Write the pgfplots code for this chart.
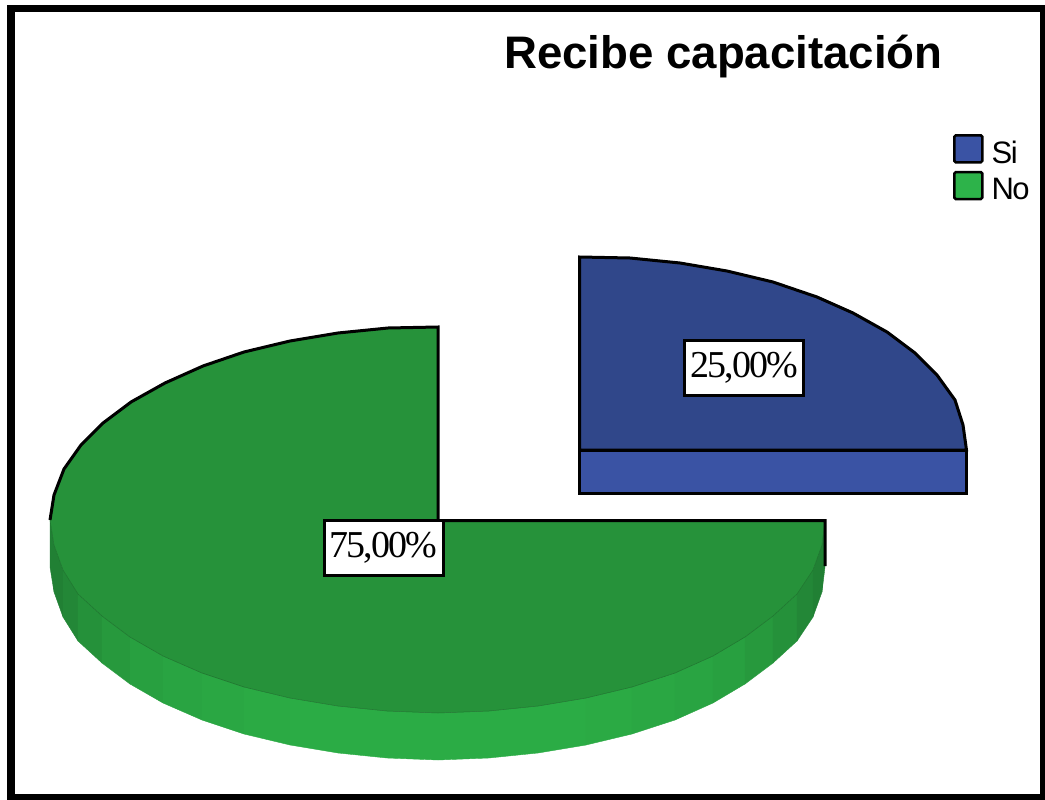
\documentclass[border=0pt]{standalone}
\usepackage{pgfplots}
\pgfplotsset{compat=1.18}
\usepackage{fontspec}
\setmainfont{Liberation Sans}
\newfontfamily\labelfont[LetterSpace=-5]{Liberation Serif}
\newfontfamily\legendfont[LetterSpace=-5]{Liberation Sans}

\definecolor{blueTop}{RGB}{48,71,138}
\definecolor{blueFront}{RGB}{58,83,164}
\definecolor{greenTop}{RGB}{38,146,58}
\definecolor{greenEdge}{RGB}{30,115,46}
\definecolor{legBlue}{RGB}{58,83,164}
\definecolor{legGreen}{RGB}{45,179,74}

% Wall shades of the large sector, dark at the sides and bright at the front
\definecolor{wa}{RGB}{33,128,52}
\definecolor{wb}{RGB}{35,135,55}
\definecolor{wc}{RGB}{37,145,58}
\definecolor{wd}{RGB}{39,153,61}
\definecolor{we}{RGB}{40,160,64}
\definecolor{wf}{RGB}{41,164,66}
\definecolor{wg}{RGB}{42,167,67}
\definecolor{wh}{RGB}{43,170,68}
\definecolor{wi}{RGB}{43,172,69}

% One wall facet: colour, then x, top y and bottom y of both ends
\newcommand{\facet}[7]{%
  \addplot[fill=#1,draw=#1,line width=0.4pt,forget plot]
    coordinates {(#2,#3) (#5,#6) (#5,#7) (#2,#4) (#2,#3)};%
}

\begin{document}
\begin{tikzpicture}
\begin{axis}[
  name=chart,
  scale only axis, width=1045pt, height=800pt,
  xmin=0, xmax=1045, ymin=0, ymax=800, y dir=reverse,
  hide axis,
  legend style={at={(axis cs:953,134)}, anchor=north west, draw=none, fill=none,
    inner sep=0pt, outer sep=0pt, row sep=3.5pt,
    font=\fontsize{31}{31}\selectfont\legendfont,
    cells={anchor=west}},
  legend cell align=left,
]

% Legend keys
\addlegendimage{legend image code/.code={
  \draw[fill=legBlue,draw=black,line width=2.6pt,rounded corners=1.5pt] (0pt,-9pt) rectangle (28pt,18pt);}}
\addlegendentry{\hspace{6pt}Si}
\addlegendimage{legend image code/.code={
  \draw[fill=legGreen,draw=black,line width=2.6pt,rounded corners=1.5pt] (0pt,-9pt) rectangle (28pt,18pt);}}
\addlegendentry{\hspace{6pt}No}

% Outer frame
\addplot[draw=black,line width=7.5pt,forget plot]
  coordinates {(11,8.5) (1044,8.5) (1044,798) (11,798) (11,8.5) (1044,8.5)};

% "No" sector (75,00 %): wall facets
\facet{wa}{50}{520}{567}{54}{545}{592}
\facet{wa}{54}{545}{592}{63}{570}{617}
\facet{wb}{63}{570}{617}{78}{594}{641}
\facet{wc}{78}{594}{641}{102}{616}{663}
\facet{wd}{102}{616}{663}{130}{637}{684}
\facet{we}{130}{637}{684}{163}{656}{703}
\facet{wf}{163}{656}{703}{202}{673}{720}
\facet{wg}{202}{673}{720}{244}{687}{734}
\facet{wh}{244}{687}{734}{290}{698}{745}
\facet{wi}{290}{698}{745}{338}{706}{753}
\facet{wi}{338}{706}{753}{387}{711}{758}
\facet{wi}{387}{711}{758}{438}{713}{760}
\facet{wi}{438}{713}{760}{489}{711}{758}
\facet{wi}{489}{711}{758}{538}{706}{753}
\facet{wi}{538}{706}{753}{586}{698}{745}
\facet{wh}{586}{698}{745}{632}{687}{734}
\facet{wg}{632}{687}{734}{675}{673}{720}
\facet{wf}{675}{673}{720}{713}{656}{703}
\facet{we}{713}{656}{703}{745}{637}{684}
\facet{wd}{745}{637}{684}{773}{616}{663}
\facet{wc}{773}{616}{663}{797}{594}{641}
\facet{wb}{797}{594}{641}{813}{570}{617}
\facet{wa}{813}{570}{617}{822}{545}{592}
\facet{wa}{822}{545}{592}{825}{520}{567}

% "No" sector: top face, thin rim along the front
\addplot[fill=greenTop,draw=greenEdge,line width=0.5pt,forget plot] coordinates {
  (50,520) (54,495) (64,469) (81,445) (103,423) (131,402) (165,383) (203,366)
  (244,352) (290,341) (338,333) (388,328) (438,327) (438,520) (825,520)
  (822,545) (813,570) (797,594) (773,616) (745,637) (713,656) (675,673)
  (632,687) (586,698) (538,706) (489,711) (438,713) (387,711) (338,706)
  (290,698) (244,687) (202,673) (163,656) (130,637) (102,616) (78,594)
  (63,570) (54,545) (50,520)};

% "No" sector: black outline of the back edges
\addplot[draw=black,line width=3pt,line join=miter,forget plot] coordinates {
  (50,520) (54,495) (64,469) (81,445) (103,423) (131,402) (165,383) (203,366)
  (244,352) (290,341) (338,333) (388,328) (438,327) (438,520.5) (825,520.5) (825,566)};

% "Si" sector (25,00 %): front face and top face
\addplot[fill=blueFront,draw=black,line width=3pt,forget plot] coordinates {
  (579.5,450) (966.5,450) (966.5,493.5) (579.5,493.5) (579.5,450)};
\addplot[fill=blueTop,draw=black,line width=3pt,forget plot] coordinates {
  (579.5,450) (579.5,257) (630,258) (680,263) (727,271) (773,282) (817,297)
  (853,313) (887,332) (915,353) (937,375) (955,400) (963,425) (966.5,450) (579.5,450)};

% Percentage labels
\node[fill=white,draw=black,line width=3pt,inner sep=0pt,
      minimum width=119pt,minimum height=55pt,
      font=\fontsize{38}{38}\selectfont\labelfont]
  at (axis cs:744,368) {\raisebox{-2.5pt}{25,00\%}};
\node[fill=white,draw=black,line width=3pt,inner sep=0pt,
      minimum width=119pt,minimum height=55pt,
      font=\fontsize{38}{38}\selectfont\labelfont]
  at (axis cs:383.5,548) {\raisebox{-2.5pt}{75,00\%}};

% Title
\node[anchor=base west,inner sep=0pt,font=\fontsize{45.6}{46}\selectfont\bfseries]
  at (axis cs:504,69) {Recibe capacitación};

\end{axis}
\pgfresetboundingbox
\path[use as bounding box] (chart.south west) rectangle (chart.north east);
\end{tikzpicture}
\end{document}
